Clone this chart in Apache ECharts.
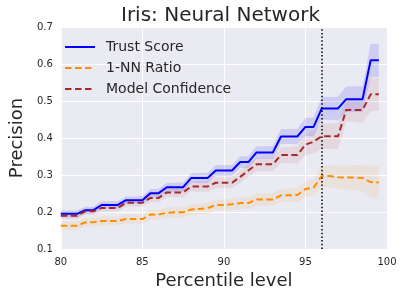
<!DOCTYPE html>
<html>
<head>
<meta charset="utf-8">
<script src="https://cdn.jsdelivr.net/npm/echarts@6/dist/echarts.min.js"></script>
<style>
html,body{margin:0;padding:0;background:#fff;}
#chart{width:404px;height:297px;}
</style>
</head>
<body>
<div id="chart"></div>
<script>
// Percentile levels (x)
var percentiles = [80,80.5,81,81.5,82,82.5,83,83.5,84,84.5,85,85.5,86,86.5,87,87.5,88,88.5,89,89.5,
                   90,90.5,91,91.5,92,92.5,93,93.5,94,94.5,95,95.5,96,96.5,97,97.5,98,98.5,99,99.5];
// Trust Score precision
var trustScore = [0.195,0.195,0.195,0.205,0.205,0.219,0.219,0.219,0.232,0.232,0.232,0.251,0.251,0.267,0.267,0.267,0.292,0.292,0.292,0.312,
                  0.312,0.312,0.335,0.335,0.361,0.361,0.361,0.404,0.404,0.404,0.43,0.43,0.48,0.48,0.48,0.505,0.505,0.505,0.61,0.61];
var trustBand = [0.009,0.009,0.009,0.009,0.009,0.01,0.01,0.01,0.01,0.01,0.011,0.011,0.012,0.012,0.012,0.013,0.013,0.014,0.014,0.015,
                 0.015,0.015,0.016,0.016,0.017,0.017,0.018,0.02,0.02,0.021,0.024,0.026,0.031,0.031,0.032,0.034,0.035,0.035,0.045,0.045];
// 1-NN Ratio precision
var nnRatio = [0.163,0.163,0.163,0.172,0.172,0.176,0.176,0.176,0.181,0.181,0.181,0.193,0.193,0.198,0.199,0.199,0.207,0.208,0.21,0.219,
               0.219,0.221,0.224,0.224,0.234,0.234,0.234,0.245,0.245,0.246,0.262,0.266,0.297,0.297,0.294,0.293,0.293,0.292,0.281,0.28];
var nnBand = [0.012,0.012,0.012,0.012,0.012,0.012,0.012,0.012,0.013,0.013,0.013,0.013,0.013,0.014,0.014,0.014,0.014,0.015,0.015,0.015,
              0.015,0.016,0.016,0.016,0.017,0.017,0.017,0.018,0.018,0.019,0.021,0.023,0.029,0.03,0.031,0.032,0.034,0.036,0.044,0.045];
// Model Confidence precision
var modelConf = [0.19,0.19,0.19,0.202,0.202,0.211,0.211,0.211,0.225,0.225,0.225,0.238,0.238,0.253,0.253,0.253,0.269,0.269,0.269,0.279,
                 0.279,0.279,0.295,0.312,0.329,0.329,0.329,0.354,0.354,0.354,0.382,0.39,0.405,0.405,0.405,0.476,0.476,0.476,0.518,0.518];
var confBand = [0.009,0.009,0.009,0.009,0.009,0.01,0.01,0.01,0.01,0.01,0.011,0.011,0.012,0.012,0.012,0.013,0.013,0.014,0.014,0.015,
                0.015,0.015,0.016,0.017,0.018,0.018,0.019,0.021,0.022,0.024,0.028,0.032,0.035,0.035,0.035,0.032,0.033,0.036,0.045,0.045];
var thresholdLevel = 96;
var xTicks = [80,85,90,95,100];
var yTicks = [0.1,0.2,0.3,0.4,0.5,0.6,0.7];

var chart = echarts.init(document.getElementById('chart'), null, {renderer:'canvas'});
var FONT = 'DejaVu Sans';
var TXT = '#262626';
var SOLID_ICON = 'path://M0,0H30V2H0Z';
var DASH_ICON = 'path://M0,0h6.5v2h-6.5z M10,0h6.5v2h-6.5z M20,0h6.5v2h-6.5z M26.5,0h3.5v0h-3.5z';

function pairs(ys){ return percentiles.map(function(x,i){ return [x, ys[i]]; }); }
function bandSeries(ys, hw, color, opacity){
  var data = percentiles.map(function(x,i){ return [x, ys[i]-hw[i], ys[i]+hw[i]]; });
  return {
    type:'custom', silent:true, z:1,
    data: data,
    encode:{x:0, y:[1,2]},
    renderItem:function(params, api){
      if (params.dataIndex !== 0) return {type:'group', children:[]};
      var pts = [];
      for (var i=0;i<data.length;i++) pts.push(api.coord([data[i][0], data[i][2]]));
      for (var j=data.length-1;j>=0;j--) pts.push(api.coord([data[j][0], data[j][1]]));
      return {type:'polygon', shape:{points:pts}, style:{fill:color, opacity:opacity, stroke:null}};
    }
  };
}

var option = {
  backgroundColor:'#ffffff',
  animation:false,
  textStyle:{fontFamily:FONT},
  grid:{left:54, right:17, top:27, bottom:48, show:true, backgroundColor:'#EAEAF2', borderWidth:0},
  graphic:[
    {type:'text', x:220.5, y:16, style:{text:'Iris: Neural Network', font:'20px "DejaVu Sans"', fill:TXT, align:'center', verticalAlign:'middle'}}
  ],
  legend:{
    orient:'vertical', left:60, top:34, itemWidth:30, itemHeight:2, itemGap:5,
    symbolKeepAspect:false,
    data:[
      {name:'Trust Score', icon:SOLID_ICON, itemStyle:{color:'#0000ff'}},
      {name:'1-NN Ratio', icon:DASH_ICON, itemStyle:{color:'#ff8c00'}},
      {name:'Model Confidence', icon:DASH_ICON, itemStyle:{color:'#a52a2a'}}
    ],
    textStyle:{fontSize:14, lineHeight:16, color:TXT, fontFamily:FONT, padding:[0,0,0,6]}
  },
  xAxis:{
    type:'value', min:80, max:100, interval:5,
    name:'Percentile level', nameLocation:'middle', nameGap:22,
    nameTextStyle:{fontSize:18, color:TXT, fontFamily:FONT},
    axisLine:{show:false}, axisTick:{show:false},
    axisLabel:{fontSize:10, color:TXT, margin:8, fontFamily:FONT,
      formatter:function(v){ return xTicks.indexOf(v)>=0 ? String(v) : ''; }},
    splitLine:{show:true, lineStyle:{color:'#ffffff', width:1}}
  },
  yAxis:{
    type:'value', min:0.1, max:0.7, interval:0.1,
    name:'Precision', nameLocation:'middle', nameGap:29,
    nameTextStyle:{fontSize:18, color:TXT, fontFamily:FONT},
    axisLine:{show:false}, axisTick:{show:false},
    axisLabel:{fontSize:10, color:TXT, margin:8, fontFamily:FONT,
      formatter:function(v){ var r=Math.round(v*10)/10; return yTicks.indexOf(r)>=0 ? r.toFixed(1) : ''; }},
    splitLine:{show:true, lineStyle:{color:'#ffffff', width:1}}
  },
  series:[
    bandSeries(trustScore, trustBand, '#0000ff', 0.12),
    bandSeries(nnRatio, nnBand, '#ff8c00', 0.09),
    bandSeries(modelConf, confBand, '#a52a2a', 0.09),
    {name:'Trust Score', type:'line', data:pairs(trustScore), symbol:'none', z:3,
     lineStyle:{color:'#0000ff', width:2}, itemStyle:{color:'#0000ff'},
     markLine:{silent:true, symbol:['none','none'], label:{show:false},
       lineStyle:{color:'#000000', type:[1.5,2.2], width:1.5},
       data:[{xAxis:thresholdLevel}]}},
    {name:'1-NN Ratio', type:'line', data:pairs(nnRatio), symbol:'none', z:3,
     lineStyle:{color:'#ff8c00', width:2, type:[6.5,3.5]}, itemStyle:{color:'#ff8c00'}},
    {name:'Model Confidence', type:'line', data:pairs(modelConf), symbol:'none', z:3,
     lineStyle:{color:'#a52a2a', width:2, type:[6.5,3.5]}, itemStyle:{color:'#a52a2a'}}
  ]
};
chart.setOption(option);
</script>
</body>
</html>
